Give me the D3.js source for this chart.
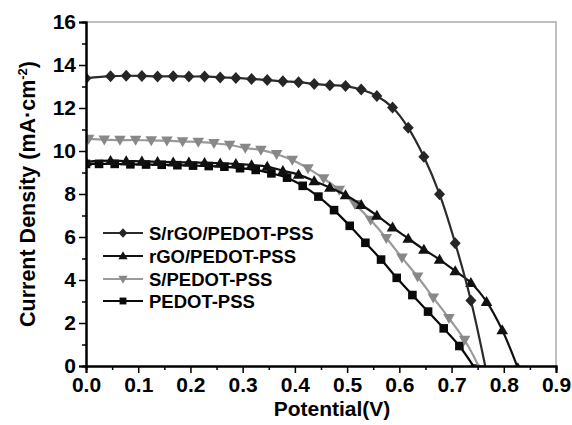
<!DOCTYPE html>
<html>
<head>
<meta charset="utf-8">
<script src="https://d3js.org/d3.v7.min.js"></script>
<style>
  body { margin: 0; background: #fff; }
  text { font-family: Arial, "Liberation Sans", sans-serif; font-weight: bold; }
</style>
</head>
<body>
<div id="chart"></div>
<script>
// J-V data
var xDiamond = [0, 0.047, 0.077, 0.107, 0.137, 0.167, 0.197, 0.227, 0.257, 0.287, 0.317, 0.347, 0.377,
                0.407, 0.437, 0.467, 0.497, 0.527, 0.557, 0.587, 0.617, 0.647, 0.677, 0.707, 0.737, 0.767];
var yDiamond = [13.38, 13.48, 13.5, 13.49, 13.47, 13.48, 13.46, 13.47, 13.42, 13.4, 13.35, 13.3, 13.24,
                13.2, 13.12, 13.06, 13.02, 12.86, 12.56, 12.02, 11.08, 9.73, 7.99, 5.71, 3.05, -0.3];

var xTriangle = [0, 0.047, 0.077, 0.107, 0.137, 0.167, 0.197, 0.227, 0.257, 0.287, 0.317, 0.347, 0.377,
                 0.407, 0.437, 0.467, 0.497, 0.527, 0.557, 0.587, 0.617, 0.647, 0.677, 0.707, 0.737, 0.767,
                 0.797, 0.827];
var yTriangle = [9.5, 9.55, 9.53, 9.52, 9.5, 9.48, 9.47, 9.45, 9.43, 9.4, 9.35, 9.28, 9.08,
                 8.9, 8.6, 8.3, 7.95, 7.5, 7.0, 6.45, 5.93, 5.42, 4.95, 4.42, 3.87, 2.99,
                 1.67, -0.1];

var xGrey = [0.005, 0.035, 0.065, 0.095, 0.125, 0.155, 0.185, 0.215, 0.245, 0.275, 0.305, 0.335, 0.365,
             0.395, 0.425, 0.455, 0.485, 0.515, 0.545, 0.575, 0.605, 0.635, 0.665, 0.695, 0.725, 0.755];
var yGrey = [10.56, 10.53, 10.51, 10.51, 10.49, 10.48, 10.44, 10.42, 10.36, 10.28, 10.14, 10.05, 9.85,
             9.58, 9.19, 8.72, 8.19, 7.53, 6.79, 5.95, 5.04, 4.15, 3.18, 2.22, 1.21, -0.15];

var xSquare = [0, 0.025, 0.055, 0.085, 0.115, 0.145, 0.175, 0.205, 0.235, 0.265, 0.295, 0.325, 0.355,
               0.385, 0.415, 0.445, 0.475, 0.505, 0.535, 0.565, 0.595, 0.625, 0.655, 0.685, 0.715, 0.745];
var ySquare = [9.4, 9.4, 9.4, 9.38, 9.37, 9.36, 9.34, 9.32, 9.3, 9.27, 9.2, 9.12, 8.96,
               8.76, 8.38, 7.88, 7.25, 6.52, 5.73, 4.95, 4.1, 3.3, 2.53, 1.75, 0.93, -0.12];

var seriesNames = ["S/rGO/PEDOT-PSS", "rGO/PEDOT-PSS", "S/PEDOT-PSS", "PEDOT-PSS"];
var xTicks = [0.0, 0.1, 0.2, 0.3, 0.4, 0.5, 0.6, 0.7, 0.8, 0.9];
var yTicks = [0, 2, 4, 6, 8, 10, 12, 14, 16];

var W = 572, H = 425;
var margin = {left: 86, right: 16, top: 22, bottom: 59};

var svg = d3.select("#chart").append("svg")
    .attr("width", W).attr("height", H);

var x = d3.scaleLinear().domain([0, 0.9]).range([margin.left, W - margin.right]);
var y = d3.scaleLinear().domain([0, 16]).range([H - margin.bottom, margin.top]);

svg.append("clipPath").attr("id", "plotclip")
  .append("rect")
    .attr("x", margin.left).attr("y", margin.top)
    .attr("width", x(0.9) - x(0)).attr("height", y(0) - y(16));

// grey frame top/right
svg.append("path")
    .attr("d", "M" + x(0) + "," + y(16) + "H" + x(0.9) + "V" + y(0))
    .attr("fill", "none").attr("stroke", "#aaa").attr("stroke-width", 1.5);

// marker shapes
var shapes = {
  diamond: "M0,-6L5.5,0L0,6L-5.5,0Z",
  triangle: "M0,-5.8L5.8,4.2L-5.8,4.2Z",
  downTriangle: "M-5.8,-4.2L5.8,-4.2L0,5.8Z",
  square: "M-4.3,-4.3H4.3V4.3H-4.3Z"
};

var series = [
  {name: seriesNames[0], xs: xDiamond, ys: yDiamond, shape: "diamond", line: "#2b2b2b", fill: "#262626"},
  {name: seriesNames[1], xs: xTriangle, ys: yTriangle, shape: "triangle", line: "#111", fill: "#111"},
  {name: seriesNames[2], xs: xGrey, ys: yGrey, shape: "downTriangle", line: "#9a9a9a", fill: "#888"},
  {name: seriesNames[3], xs: xSquare, ys: ySquare, shape: "square", line: "#0a0a0a", fill: "#0a0a0a"}
];

var line = d3.line()
    .x(function(d) { return x(d[0]); })
    .y(function(d) { return y(d[1]); })
    .curve(d3.curveCatmullRom.alpha(0.5));

var plot = svg.append("g").attr("clip-path", "url(#plotclip)");

// draw in reverse so diamonds end up on top
series.slice().reverse().forEach(function(s) {
  var pts = s.xs.map(function(v, i) { return [v, s.ys[i]]; });
  plot.append("path")
      .datum(pts)
      .attr("d", line)
      .attr("fill", "none")
      .attr("stroke", s.line)
      .attr("stroke-width", 2.2);
  plot.selectAll(null)
      .data(pts)
      .enter().append("path")
      .attr("d", shapes[s.shape])
      .attr("transform", function(d) { return "translate(" + x(d[0]) + "," + y(d[1]) + ")"; })
      .attr("fill", s.fill);
});

// axes
var xAxis = d3.axisBottom(x).tickValues(xTicks).tickSize(7).tickPadding(4)
    .tickFormat(d3.format(".1f"));
var xMinor = d3.axisBottom(x).tickValues(d3.range(0.05, 0.9, 0.1)).tickSize(4).tickFormat("");
var yAxis = d3.axisLeft(y).tickValues(yTicks).tickSize(7).tickPadding(3);
var yMinor = d3.axisLeft(y).tickValues(d3.range(1, 16, 2)).tickSize(4).tickFormat("");

function styleAxis(g) {
  g.select(".domain").attr("stroke", "#000").attr("stroke-width", 2);
  g.selectAll(".tick line").attr("stroke", "#000").attr("stroke-width", 1.5);
  g.selectAll(".tick text").attr("font-size", 21).attr("font-weight", "bold")
    .attr("font-family", "Arial, 'Liberation Sans', sans-serif").attr("fill", "#000");
}

svg.append("g").attr("transform", "translate(0," + y(0) + ")").call(xMinor).call(styleAxis);
svg.append("g").attr("transform", "translate(0," + y(0) + ")").call(xAxis).call(styleAxis);
svg.append("g").attr("transform", "translate(" + x(0) + ",0)").call(yMinor).call(styleAxis);
svg.append("g").attr("transform", "translate(" + x(0) + ",0)").call(yAxis).call(styleAxis);

// axis titles
svg.append("text")
    .attr("x", 332).attr("y", 416)
    .attr("text-anchor", "middle")
    .attr("font-size", 21)
    .text("Potential(V)");

var yt = svg.append("text")
    .attr("transform", "translate(35," + ((y(0) + y(16)) / 2) + ") rotate(-90)")
    .attr("text-anchor", "middle")
    .attr("font-size", 21.5);
yt.append("tspan").text("Current Density (mA\u00b7cm");
yt.append("tspan").attr("dy", -8).attr("font-size", 13).text("-2");
yt.append("tspan").attr("dy", 8).text(")");

// legend
var legend = svg.append("g");
var legendY = [233, 256, 279, 301];
series.forEach(function(s, i) {
  var g = legend.append("g").attr("transform", "translate(0," + legendY[i] + ")");
  g.append("line")
      .attr("x1", 103).attr("x2", 143)
      .attr("stroke", s.line).attr("stroke-width", 2.2);
  g.append("path")
      .attr("d", shapes[s.shape])
      .attr("transform", "translate(123,0) scale(0.8)")
      .attr("fill", s.fill);
  g.append("text")
      .attr("x", 149).attr("y", 7)
      .attr("font-size", 18.5)
      .text(s.name);
});
</script>
</body>
</html>
